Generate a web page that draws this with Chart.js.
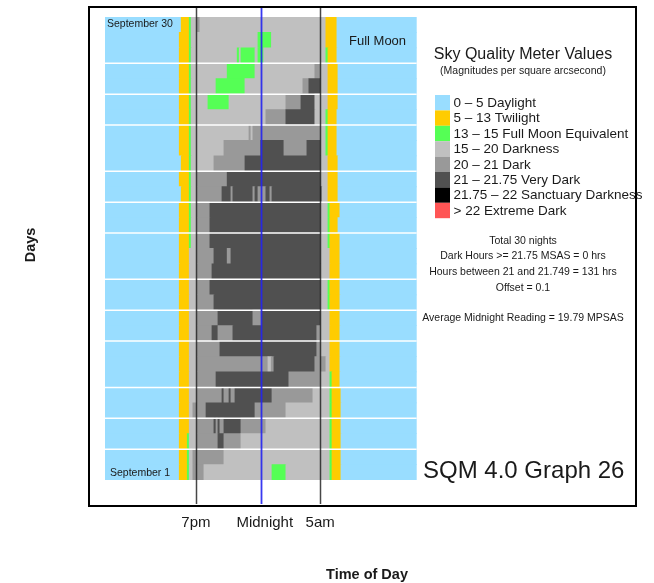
<!DOCTYPE html>
<html>
<head>
<meta charset="utf-8">
<title>SQM 4.0 Graph 26</title>
<script src="https://cdn.jsdelivr.net/npm/chart.js@4.4.1/dist/chart.umd.min.js"></script>
<style>
  html, body { margin: 0; padding: 0; background: #ffffff; }
  #wrap { position: relative; width: 654px; height: 583px; }
</style>
</head>
<body>
<div id="wrap"><canvas id="sqm" width="654" height="583"></canvas></div>
<script>
// Brightness classes used to colour each stretch of the night
const levelLabels = [
  '0 \u2013 5 Daylight',
  '5 \u2013 13 Twilight',
  '13 \u2013 15 Full Moon Equivalent',
  '15 \u2013 20 Darkness',
  '20 \u2013 21 Dark',
  '21 \u2013 21.75 Very Dark',
  '21.75 \u2013 22 Sanctuary Darkness',
  '> 22 Extreme Dark'
];
const levelColors = ['#99DDFF', '#FFCC00', '#55FF55', '#C0C0C0', '#999999', '#505050', '#000000', '#FF5555'];

// Nights from top (September 30) to bottom (September 1)
const dayLabels = [];
for (let d = 30; d >= 1; d--) dayLabels.push('September ' + d);

// Each night: [start hour (12 = noon, 24 = midnight, 36 = next noon), level]
const nights = [
  [[12,0],[17.87,1],[18.49,2],[18.64,3],[19.11,4],[19.31,3],[29.01,1],[29.86,0]],
  [[12,0],[17.72,1],[18.49,2],[18.64,3],[23.78,2],[24.82,3],[29.01,1],[29.86,0]],
  [[12,0],[17.72,1],[18.49,2],[18.64,3],[22.18,2],[22.34,3],[22.47,2],[23.55,3],[23.78,2],[24.22,3],[29.01,2],[29.17,1],[29.86,0]],
  [[12,0],[17.72,1],[18.49,2],[18.64,3],[21.41,2],[23.55,3],[28.16,4],[28.60,3],[29.17,1],[29.94,0]],
  [[12,0],[17.72,1],[18.49,2],[18.64,3],[20.55,2],[22.78,3],[27.24,4],[27.70,5],[28.60,3],[29.17,1],[29.94,0]],
  [[12,0],[17.72,1],[18.49,2],[18.64,3],[19.93,2],[21.55,3],[25.93,4],[27.09,5],[28.16,3],[29.17,1],[29.94,0]],
  [[12,0],[17.72,1],[18.49,2],[18.64,3],[24.39,4],[25.93,5],[28.16,3],[29.01,2],[29.17,1],[29.86,0]],
  [[12,0],[17.72,1],[18.49,2],[18.64,3],[23.09,4],[23.24,3],[23.39,4],[28.60,3],[29.01,2],[29.17,1],[29.86,0]],
  [[12,0],[17.72,1],[18.49,2],[18.64,3],[21.16,4],[23.99,5],[25.78,4],[27.55,5],[28.60,3],[29.01,2],[29.17,1],[29.86,0]],
  [[12,0],[17.87,1],[18.49,2],[18.64,3],[20.39,4],[22.78,5],[28.60,3],[29.17,1],[29.94,0]],
  [[12,0],[17.72,1],[18.49,2],[18.64,3],[19.11,4],[21.41,5],[28.60,3],[29.17,1],[29.94,0]],
  [[12,0],[17.87,1],[18.49,2],[18.64,3],[19.11,4],[21.01,5],[21.70,4],[21.85,5],[23.39,4],[23.55,5],[23.78,4],[24.39,5],[24.70,4],[24.86,5],[28.70,3],[29.17,1],[29.94,0]],
  [[12,0],[17.72,1],[18.49,2],[18.64,3],[19.11,4],[20.08,5],[28.60,3],[29.17,2],[29.32,1],[30.09,0]],
  [[12,0],[17.72,1],[18.49,2],[18.64,3],[19.11,4],[20.08,5],[28.60,3],[29.17,2],[29.32,1],[29.94,0]],
  [[12,0],[17.72,1],[18.49,2],[18.64,3],[19.11,4],[20.08,5],[28.60,3],[29.17,2],[29.32,1],[30.09,0]],
  [[12,0],[17.72,1],[18.49,3],[19.11,4],[20.39,5],[21.41,4],[21.70,5],[28.60,3],[29.32,1],[30.09,0]],
  [[12,0],[17.72,1],[18.49,3],[19.11,4],[20.24,5],[28.60,3],[29.32,1],[30.09,0]],
  [[12,0],[17.72,1],[18.49,3],[19.11,4],[20.08,5],[28.60,3],[29.17,2],[29.32,1],[30.09,0]],
  [[12,0],[17.72,1],[18.49,3],[19.11,4],[20.39,5],[28.60,3],[29.17,2],[29.32,1],[30.09,0]],
  [[12,0],[17.72,1],[18.49,3],[19.11,4],[20.70,5],[23.39,4],[24.09,5],[28.60,3],[29.32,1],[30.09,0]],
  [[12,0],[17.72,1],[18.49,3],[19.11,4],[20.24,5],[20.70,4],[21.85,5],[28.31,4],[28.60,3],[29.32,1],[30.09,0]],
  [[12,0],[17.72,1],[18.49,3],[19.11,4],[20.85,5],[28.31,4],[28.60,3],[29.32,1],[30.09,0]],
  [[12,0],[17.72,1],[18.49,3],[19.11,4],[24.55,3],[24.80,4],[25.01,5],[28.16,4],[29.01,3],[29.32,1],[30.09,0]],
  [[12,0],[17.72,1],[18.49,3],[19.11,4],[20.55,5],[26.16,4],[28.60,3],[29.32,2],[29.48,1],[30.09,0]],
  [[12,0],[17.72,1],[18.49,3],[19.11,4],[21.01,5],[21.16,4],[21.55,5],[21.70,4],[22.01,5],[24.86,4],[28.01,3],[29.32,2],[29.48,1],[30.17,0]],
  [[12,0],[17.72,1],[18.49,3],[18.77,4],[19.78,5],[23.55,4],[25.93,3],[29.32,2],[29.48,1],[30.17,0]],
  [[12,0],[17.72,1],[18.49,3],[19.11,4],[20.39,5],[20.55,4],[20.70,5],[20.85,4],[21.16,5],[22.47,4],[24.39,3],[29.32,2],[29.48,1],[30.17,0]],
  [[12,0],[17.72,1],[18.34,2],[18.49,3],[19.11,4],[20.70,5],[21.16,4],[22.47,3],[29.32,2],[29.48,1],[30.17,0]],
  [[12,0],[17.72,1],[18.34,2],[18.49,3],[18.77,4],[21.16,3],[29.32,2],[29.48,1],[30.17,0]],
  [[12,0],[17.72,1],[18.34,2],[18.49,3],[18.77,4],[19.62,3],[24.86,2],[25.93,3],[29.32,2],[29.48,1],[30.17,0]]
];

// Time axis
const tickHours = [19.0, 24.3, 28.57];
const tickLabels = ['7pm', 'Midnight', '5am'];
const markerHours = [19.03, 24.0, 28.57];

// Rows (counted from the top) that start a new block of nights
const blockStartRows = [3, 5, 7, 10, 12, 14, 17, 19, 21, 24, 26, 28];

const summaryLines = [
  'Total 30 nights',
  'Dark Hours >= 21.75 MSAS = 0 hrs',
  'Hours between 21 and 21.749 = 131 hrs',
  'Offset = 0.1',
  '',
  'Average Midnight Reading = 19.79 MPSAS'
];

// Flatten the nights into floating horizontal bars
const segments = [];
nights.forEach((runs, r) => {
  runs.forEach(([start, level], i) => {
    const end = i + 1 < runs.length ? runs[i + 1][0] : 36;
    segments.push({ y: dayLabels[r], x: [start, end], level });
  });
});

const FONT = '"Liberation Sans", Arial, Helvetica, sans-serif';

const decor = {
  id: 'decor',
  afterDatasetsDraw(chart) {
    const { ctx, chartArea: a, scales: { x, y } } = chart;
    ctx.save();

    // white separators between blocks of nights
    ctx.strokeStyle = '#ffffff';
    ctx.lineWidth = 1.5;
    blockStartRows.forEach(r => {
      const py = (y.getPixelForValue(r - 1) + y.getPixelForValue(r)) / 2;
      ctx.beginPath();
      ctx.moveTo(a.left, py);
      ctx.lineTo(a.right, py);
      ctx.stroke();
    });

    // 7pm / midnight / 5am reference lines
    const markerColors = ['rgba(25,25,25,0.8)', 'rgba(35,35,240,0.9)', 'rgba(25,25,25,0.8)'];
    markerHours.forEach((h, i) => {
      const px = Math.round(x.getPixelForValue(h)) + 0.5;
      ctx.strokeStyle = markerColors[i];
      ctx.lineWidth = i === 1 ? 1.8 : 1.5;
      ctx.beginPath();
      ctx.moveTo(px, 8);
      ctx.lineTo(px, 504);
      ctx.stroke();
    });

    // labels inside the plot
    ctx.fillStyle = '#1a1a1a';
    ctx.textBaseline = 'middle';
    ctx.textAlign = 'left';
    ctx.font = '10.5px ' + FONT;
    ctx.fillText(dayLabels[0], a.left + 2, y.getPixelForValue(0) - 1);
    ctx.fillText(dayLabels[dayLabels.length - 1], a.left + 5, y.getPixelForValue(dayLabels.length - 1) + 0.5);
    ctx.font = '13px ' + FONT;
    ctx.fillText('Full Moon', 349, 41);
    ctx.restore();
  },
  afterDraw(chart) {
    const { ctx } = chart;
    ctx.save();

    // outer frame
    ctx.strokeStyle = '#000000';
    ctx.lineWidth = 2;
    ctx.strokeRect(89, 7, 547, 499);

    ctx.fillStyle = '#1a1a1a';
    ctx.textBaseline = 'middle';

    // legend block
    ctx.textAlign = 'center';
    ctx.font = '16px ' + FONT;
    ctx.fillText('Sky Quality Meter Values', 523, 55);
    ctx.font = '10.5px ' + FONT;
    ctx.fillText('(Magnitudes per square arcsecond)', 523, 71);

    const boxTop = 95, boxH = 15.4;
    levelLabels.forEach((lab, i) => {
      ctx.fillStyle = levelColors[i];
      ctx.fillRect(435, boxTop + i * boxH, 15, boxH);
      ctx.fillStyle = '#1a1a1a';
      ctx.textAlign = 'left';
      ctx.font = '13.5px ' + FONT;
      ctx.fillText(lab, 453.5, boxTop + i * boxH + boxH / 2 + 0.5);
    });

    // summary
    ctx.textAlign = 'center';
    ctx.font = '10.5px ' + FONT;
    const sumY = [240.7, 256, 272.3, 287.7, 302.7, 317.7];
    summaryLines.forEach((t, i) => { if (t) ctx.fillText(t, 523, sumY[i]); });

    // graph caption
    ctx.textAlign = 'left';
    ctx.font = '24px ' + FONT;
    ctx.fillText('SQM 4.0 Graph 26', 423, 471.5);

    // axis titles
    ctx.font = 'bold 14.5px ' + FONT;
    ctx.textAlign = 'center';
    ctx.fillText('Time of Day', 367, 575);
    ctx.translate(31, 245);
    ctx.rotate(-Math.PI / 2);
    ctx.fillText('Days', 0, 0);
    ctx.restore();
  }
};

new Chart(document.getElementById('sqm'), {
  type: 'bar',
  data: {
    labels: dayLabels,
    datasets: [{
      data: segments,
      backgroundColor: c => levelColors[c.raw.level],
      borderWidth: 0,
      barPercentage: 1,
      categoryPercentage: 1,
      inflateAmount: 0.4
    }]
  },
  options: {
    indexAxis: 'y',
    responsive: false,
    animation: false,
    events: [],
    layout: { padding: { left: 105, top: 17, right: 237.3, bottom: 17 } },
    plugins: { legend: { display: false }, tooltip: { enabled: false } },
    scales: {
      x: {
        type: 'linear',
        min: 12,
        max: 36,
        grid: { display: false, drawTicks: false },
        border: { display: false },
        afterBuildTicks: s => { s.ticks = tickHours.map(v => ({ value: v })); },
        ticks: {
          autoSkip: false,
          maxRotation: 0,
          padding: 34,
          color: '#1a1a1a',
          font: { family: FONT, size: 15 },
          callback: (v, i) => tickLabels[i]
        }
      },
      y: { type: 'category', display: false, offset: true }
    }
  },
  plugins: [decor]
});
</script>
</body>
</html>
